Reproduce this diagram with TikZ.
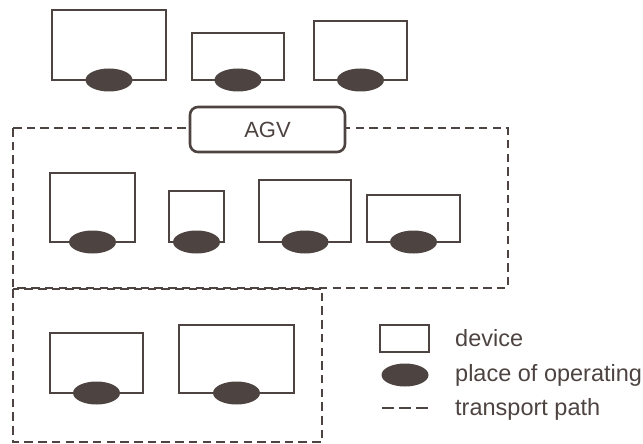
\documentclass[tikz,border=0pt]{standalone}
\usepackage{fontspec}
\setmainfont{Liberation Sans}
\newlength{\du}
\setlength{\du}{1\unitlength}
\definecolor{dialinecolor}{RGB}{77,68,65}
\tikzset{
  device/.style={draw=dialinecolor, line width=2.2\du, fill=white, inner sep=0pt, outer sep=0pt, anchor=north west},
  place/.style={ellipse, fill=dialinecolor, inner sep=0pt, minimum width=47\du, minimum height=23\du},
  route/.style={draw=dialinecolor, line width=2\du, dash pattern=on 8.5\du off 5.2\du},
  agvbox/.style={draw=dialinecolor, line width=2.6\du, fill=white, rounded corners=8\du, minimum width=155\du, minimum height=45\du, font=\fontsize{22}{26}\selectfont, text=dialinecolor},
  legtext/.style={anchor=base west, inner sep=0pt, font=\fontsize{23.5}{27}\selectfont, text=dialinecolor}
}
\usetikzlibrary{shapes.geometric}
\begin{document}
\begin{tikzpicture}
\pgftransformyscale{-1.000000}
\useasboundingbox (0\du,0\du) rectangle (643\du,444\du);
% transport paths
\draw[route] (13\du,128\du) rectangle (508\du,288\du);
\draw[route] (13\du,289\du) rectangle (322\du,442\du);
% AGV
\node[agvbox] (agv) at (267.5\du,129.5\du) {AGV};
% devices, upper row
\node[device, minimum width=114\du, minimum height=70\du] (dev1) at (52\du,10\du) {};
\node[device, minimum width=92\du, minimum height=47\du] (dev2) at (192\du,33\du) {};
\node[device, minimum width=93\du, minimum height=59\du] (dev3) at (314\du,21\du) {};
% devices, middle row
\node[device, minimum width=85\du, minimum height=69\du] (dev4) at (50\du,173\du) {};
\node[device, minimum width=55\du, minimum height=51\du] (dev5) at (169\du,191\du) {};
\node[device, minimum width=92\du, minimum height=62\du] (dev6) at (259\du,180\du) {};
\node[device, minimum width=93\du, minimum height=47\du] (dev7) at (367\du,195\du) {};
% devices, lower row
\node[device, minimum width=93\du, minimum height=60\du] (dev8) at (50\du,333\du) {};
\node[device, minimum width=115\du, minimum height=68\du] (dev9) at (179\du,325\du) {};
% places of operating
\node[place] (op1) at (dev1.south) {};
\node[place] (op2) at (dev2.south) {};
\node[place] (op3) at (dev3.south) {};
\node[place] (op4) at (dev4.south) {};
\node[place] (op5) at (dev5.south) {};
\node[place] (op6) at (dev6.south) {};
\node[place] (op7) at (dev7.south) {};
\node[place] (op8) at (dev8.south) {};
\node[place] (op9) at (dev9.south) {};
% legend
\node[device, minimum width=49\du, minimum height=27\du] (legdev) at (380\du,325\du) {};
\node[legtext] (legdevtext) at (455\du,346\du) {device};
\node[place] (legplace) at (405\du,375\du) {};
\node[legtext] (legplacetext) at (455\du,381\du) {place of operating};
\coordinate (legroutea) at (382\du,408\du);
\coordinate (legrouteb) at (430\du,408\du);
\draw[route, line width=1.8\du, dash pattern=on 12\du off 5\du] (legroutea) -- (legrouteb);
\node[legtext] (legroutetext) at (455\du,415\du) {transport path};
\end{tikzpicture}
\end{document}
